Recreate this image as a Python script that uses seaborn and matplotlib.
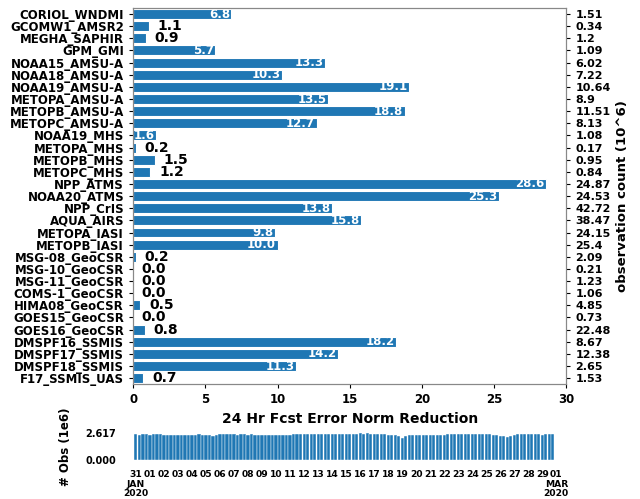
import numpy as np
import pandas as pd
import matplotlib
matplotlib.use("Agg")
import matplotlib.pyplot as plt
import seaborn as sns

# instrument impact data
sensors = ["CORIOL_WNDMI", "GCOMW1_AMSR2", "MEGHA_SAPHIR", "GPM_GMI",
           "NOAA15_AMSU-A", "NOAA18_AMSU-A", "NOAA19_AMSU-A", "METOPA_AMSU-A",
           "METOPB_AMSU-A", "METOPC_AMSU-A", "NOAA19_MHS", "METOPA_MHS",
           "METOPB_MHS", "METOPC_MHS", "NPP_ATMS", "NOAA20_ATMS", "NPP_CrIS",
           "AQUA_AIRS", "METOPA_IASI", "METOPB_IASI", "MSG-08_GeoCSR",
           "MSG-10_GeoCSR", "MSG-11_GeoCSR", "COMS-1_GeoCSR", "HIMA08_GeoCSR",
           "GOES15_GeoCSR", "GOES16_GeoCSR", "DMSPF16_SSMIS", "DMSPF17_SSMIS",
           "DMSPF18_SSMIS", "F17_SSMIS_UAS"]
reduction = [6.8, 1.1, 0.9, 5.7, 13.3, 10.3, 19.1, 13.5, 18.8, 12.7, 1.6, 0.2,
             1.5, 1.2, 28.6, 25.3, 13.8, 15.8, 9.8, 10.0, 0.2, 0.0, 0.0, 0.0,
             0.5, 0.0, 0.8, 18.2, 14.2, 11.3, 0.7]
obs_count = ["1.51", "0.34", "1.2", "1.09", "6.02", "7.22", "10.64", "8.9",
             "11.51", "8.13", "1.08", "0.17", "0.95", "0.84", "24.87", "24.53",
             "42.72", "38.47", "24.15", "25.4", "2.09", "0.21", "1.23", "1.06",
             "4.85", "0.73", "22.48", "8.67", "12.38", "2.65", "1.53"]

# obs per cycle (1e6), 4 cycles/day, 31 Jan - 29 Feb 2020
cycle_obs = [
    2.50, 2.47, 2.49, 2.52, 2.48, 2.50, 2.53, 2.49, 2.47, 2.46, 2.48, 2.47,
    2.45, 2.47, 2.46, 2.48, 2.47, 2.46, 2.49, 2.48, 2.44, 2.40, 2.35, 2.42,
    2.50, 2.51, 2.49, 2.52, 2.50, 2.48, 2.51, 2.49, 2.47, 2.50, 2.46, 2.48,
    2.47, 2.45, 2.48, 2.46, 2.46, 2.47, 2.45, 2.48, 2.47, 2.49, 2.52, 2.50,
    2.55, 2.53, 2.56, 2.51, 2.54, 2.52, 2.50, 2.53, 2.50, 2.52, 2.55, 2.51,
    2.56, 2.54, 2.58, 2.53, 2.59, 2.57, 2.617, 2.56, 2.54, 2.56, 2.52, 2.50,
    2.48, 2.45, 2.40, 2.30, 2.15, 2.32, 2.42, 2.46, 2.45, 2.47, 2.44, 2.46,
    2.45, 2.47, 2.46, 2.45, 2.48, 2.50, 2.52, 2.49, 2.55, 2.53, 2.58, 2.52,
    2.54, 2.50, 2.52, 2.55, 2.51, 2.53, 2.48, 2.42, 2.38, 2.30, 2.25, 2.35,
    2.47, 2.52, 2.55, 2.53, 2.50, 2.49, 2.52, 2.50, 2.48, 2.51, 2.49, 2.50,
]
day_labels = ["31\nJAN\n2020"] + [f"{d:02d}" for d in range(1, 30)] + ["01\nMAR\n2020"]

plt.rcParams["font.weight"] = "bold"
plt.rcParams["axes.labelweight"] = "bold"

fig = plt.figure(figsize=(6.4, 4.99), dpi=100)
ax = fig.add_axes([0.208, 0.230, 0.677, 0.754])

blue = "#1f77b4"
sns.barplot(x=reduction, y=sensors, orient="h", color=blue, saturation=1,
            width=0.82, edgecolor="white", linewidth=0.8, ax=ax)
ax.set_xlim(0, 30)
ax.set_xlabel("24 Hr Fcst Error Norm Reduction", fontsize=10)
ax.set_ylabel("")
ax.tick_params(axis="both", labelsize=8.5, length=3)
for s in ax.spines.values():
    s.set_color("#888888")

for i, v in enumerate(reduction):
    if v > 1.5:
        ax.text(v - 0.1, i, f"{v:.1f}", ha="right", va="center",
                color="white", fontsize=8.5, fontweight="bold")
    else:
        ax.text(v + 0.6, i, f"{v:.1f}", ha="left", va="center",
                color="black", fontsize=10, fontweight="bold")

ax2 = ax.twinx()
ax2.set_ylim(ax.get_ylim())
ax2.set_yticks(range(len(obs_count)))
ax2.set_yticklabels(obs_count)
ax2.tick_params(axis="y", labelsize=8, length=3)
ax2.set_ylabel("observation count (10^6)", fontsize=9.5)
for s in ax2.spines.values():
    s.set_color("#888888")

# obs time series panel
bx = fig.add_axes([0.208, 0.078, 0.67, 0.054])
ts = pd.DataFrame({"day": np.arange(len(cycle_obs)) / 4.0, "obs": cycle_obs})
sns.barplot(data=ts, x="day", y="obs", native_scale=True, color=blue,
            saturation=1, width=0.9, edgecolor="white", linewidth=0.3, ax=bx)
bx.set_ylim(0, max(cycle_obs))
bx.set_yticks([0, max(cycle_obs)])
bx.set_yticklabels(["0.000", f"{max(cycle_obs):.3f}"])
bx.set_xlim(-0.2, 30.4)
bx.set_xticks(np.arange(len(day_labels)))
bx.set_xticklabels(day_labels, linespacing=1.1)
bx.tick_params(axis="x", labelsize=6.6, length=0, pad=7)
bx.tick_params(axis="y", labelsize=7, length=0, pad=12)
bx.set_xlabel("")
bx.set_ylabel("# Obs (1e6)", fontsize=8.5, labelpad=10)
for s in bx.spines.values():
    s.set_visible(False)

fig.savefig("out.png", dpi=100)
